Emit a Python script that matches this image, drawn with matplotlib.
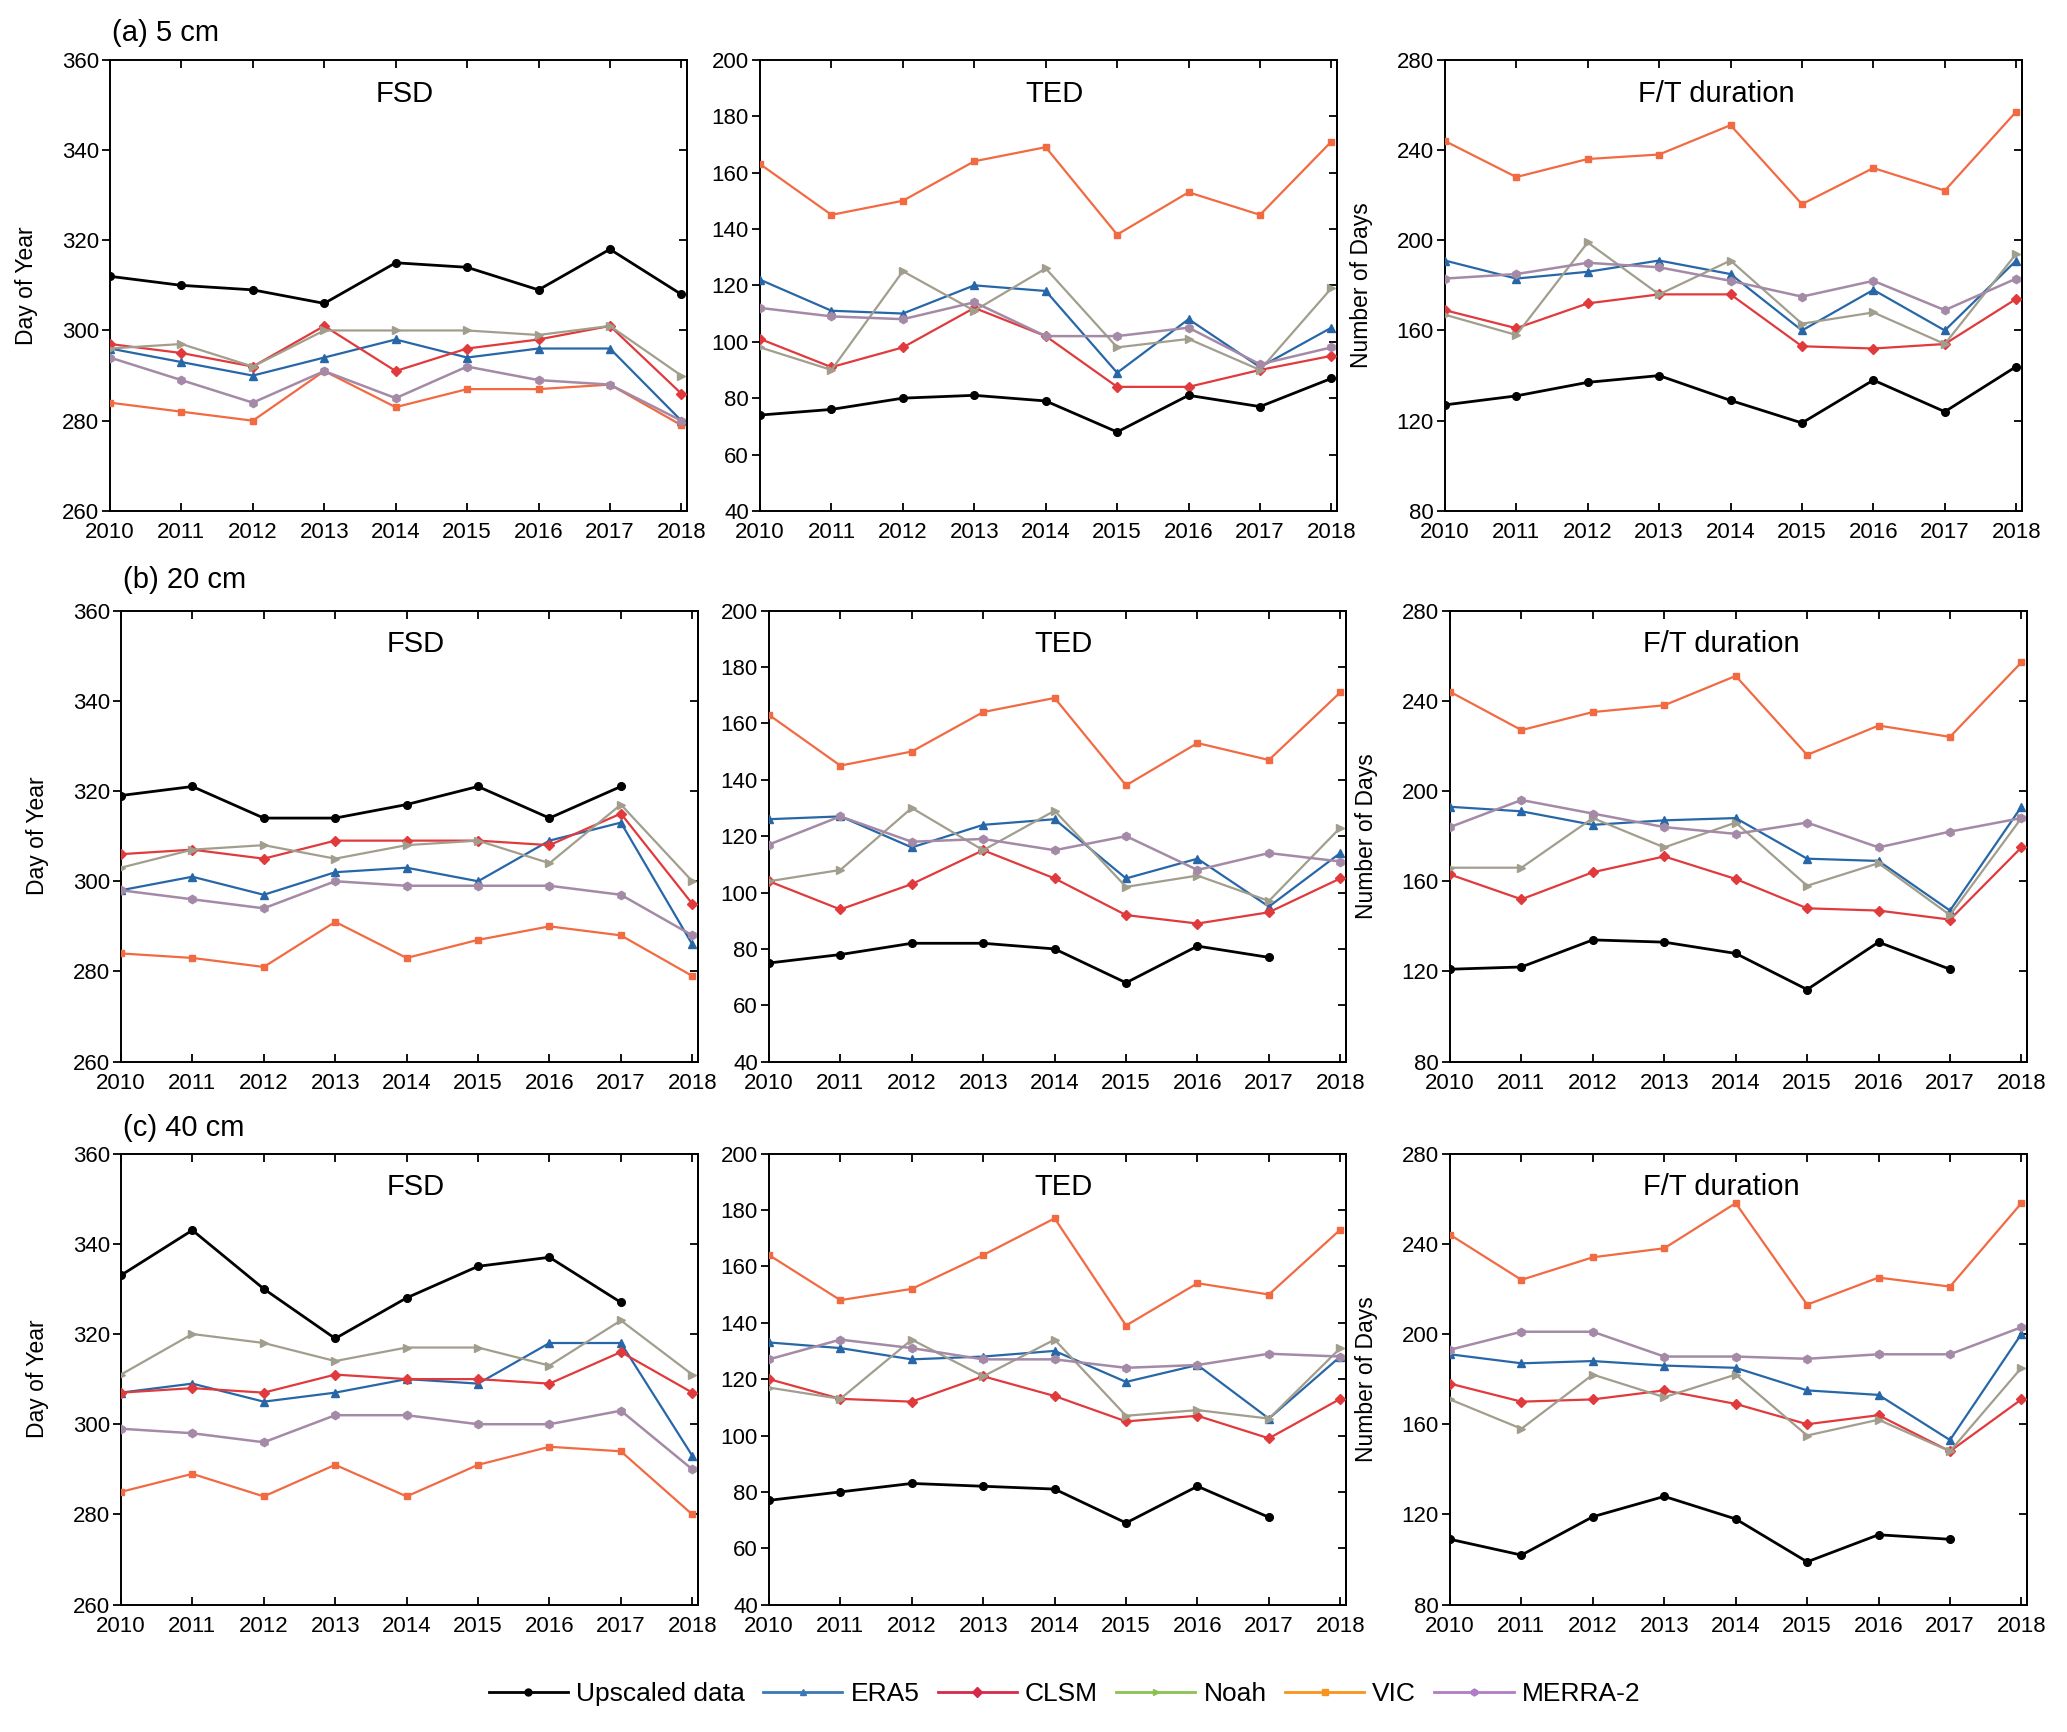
import numpy as np
import matplotlib
matplotlib.use("Agg")
import matplotlib.pyplot as plt
from matplotlib.lines import Line2D

nan = np.nan

years = [2010, 2011, 2012, 2013, 2014, 2015, 2016, 2017, 2018]
products = ["Upscaled data", "ERA5", "CLSM", "Noah", "VIC", "MERRA-2"]

# rows follow the products list
fsd_5 = [
    [312, 310, 309, 306, 315, 314, 309, 318, 308],
    [296, 293, 290, 294, 298, 294, 296, 296, 280],
    [297, 295, 292, 301, 291, 296, 298, 301, 286],
    [296, 297, 292, 300, 300, 300, 299, 301, 290],
    [284, 282, 280, 291, 283, 287, 287, 288, 279],
    [294, 289, 284, 291, 285, 292, 289, 288, 280],
]
ted_5 = [
    [74, 76, 80, 81, 79, 68, 81, 77, 87],
    [122, 111, 110, 120, 118, 89, 108, 91, 105],
    [101, 91, 98, 112, 102, 84, 84, 90, 95],
    [98, 90, 125, 111, 126, 98, 101, 90, 119],
    [163, 145, 150, 164, 169, 138, 153, 145, 171],
    [112, 109, 108, 114, 102, 102, 105, 92, 98],
]
ft_5 = [
    [127, 131, 137, 140, 129, 119, 138, 124, 144],
    [191, 183, 186, 191, 185, 160, 178, 160, 191],
    [169, 161, 172, 176, 176, 153, 152, 154, 174],
    [167, 158, 199, 176, 191, 163, 168, 154, 194],
    [244, 228, 236, 238, 251, 216, 232, 222, 257],
    [183, 185, 190, 188, 182, 175, 182, 169, 183],
]
fsd_20 = [
    [319, 321, 314, 314, 317, 321, 314, 321, nan],
    [298, 301, 297, 302, 303, 300, 309, 313, 286],
    [306, 307, 305, 309, 309, 309, 308, 315, 295],
    [303, 307, 308, 305, 308, 309, 304, 317, 300],
    [284, 283, 281, 291, 283, 287, 290, 288, 279],
    [298, 296, 294, 300, 299, 299, 299, 297, 288],
]
ted_20 = [
    [75, 78, 82, 82, 80, 68, 81, 77, nan],
    [126, 127, 116, 124, 126, 105, 112, 95, 114],
    [104, 94, 103, 115, 105, 92, 89, 93, 105],
    [104, 108, 130, 115, 129, 102, 106, 97, 123],
    [163, 145, 150, 164, 169, 138, 153, 147, 171],
    [117, 127, 118, 119, 115, 120, 108, 114, 111],
]
ft_20 = [
    [121, 122, 134, 133, 128, 112, 133, 121, nan],
    [193, 191, 185, 187, 188, 170, 169, 147, 193],
    [163, 152, 164, 171, 161, 148, 147, 143, 175],
    [166, 166, 188, 175, 186, 158, 168, 145, 188],
    [244, 227, 235, 238, 251, 216, 229, 224, 257],
    [184, 196, 190, 184, 181, 186, 175, 182, 188],
]
fsd_40 = [
    [333, 343, 330, 319, 328, 335, 337, 327, nan],
    [307, 309, 305, 307, 310, 309, 318, 318, 293],
    [307, 308, 307, 311, 310, 310, 309, 316, 307],
    [311, 320, 318, 314, 317, 317, 313, 323, 311],
    [285, 289, 284, 291, 284, 291, 295, 294, 280],
    [299, 298, 296, 302, 302, 300, 300, 303, 290],
]
ted_40 = [
    [77, 80, 83, 82, 81, 69, 82, 71, nan],
    [133, 131, 127, 128, 130, 119, 125, 106, 128],
    [120, 113, 112, 121, 114, 105, 107, 99, 113],
    [117, 113, 134, 121, 134, 107, 109, 106, 131],
    [164, 148, 152, 164, 177, 139, 154, 150, 173],
    [127, 134, 131, 127, 127, 124, 125, 129, 128],
]
ft_40 = [
    [109, 102, 119, 128, 118, 99, 111, 109, nan],
    [191, 187, 188, 186, 185, 175, 173, 153, 200],
    [178, 170, 171, 175, 169, 160, 164, 148, 171],
    [171, 158, 182, 172, 182, 155, 162, 148, 185],
    [244, 224, 234, 238, 258, 213, 225, 221, 258],
    [193, 201, 201, 190, 190, 189, 191, 191, 203],
]

row_labels = ["(a) 5 cm", "(b) 20 cm", "(c) 40 cm"]
panel_titles = ["FSD", "TED", "F/T duration"]

plt.rcParams["font.family"] = ["Liberation Sans", "DejaVu Sans"]

line_colors = ["black", "#2767a8", "#e03a3c", "#a29e8e", "#f26a42", "#a48aa6"]
legend_colors = ["black", "#3a78b5", "#d62848", "#8cc152", "#f7941d", "#b07cc6"]
markers = ["o", "^", "D", ">", "s", "h"]
msizes = [5.5, 5.5, 5, 6, 4.5, 6]
lwidths = [2.0, 1.6, 1.6, 1.6, 1.6, 1.8]

ylims = [(260, 360), (40, 200), (80, 280)]
yticks = [np.arange(260, 361, 20), np.arange(40, 201, 20), np.arange(80, 281, 40)]
ylabels = ["Day of Year", None, "Number of Days"]

data = [[fsd_5, ted_5, ft_5], [fsd_20, ted_20, ft_20], [fsd_40, ted_40, ft_40]]

fig = plt.figure(figsize=(20.67, 17.32), dpi=100)

row_bottom = [0.705, 0.387, 0.0735]
row_h = 0.2605
col_left = [[0.0532, 0.3677, 0.699], [0.0585, 0.372, 0.7015], [0.0585, 0.372, 0.7015]]
col_w = 0.2792
label_y = [0.981, 0.665, 0.349]

for r in range(3):
    for c in range(3):
        ax = fig.add_axes([col_left[r][c], row_bottom[r], col_w, row_h])
        series = data[r][c]
        for k in range(len(products)):
            ax.plot(years, series[k], color=line_colors[k], marker=markers[k],
                    markersize=msizes[k], linewidth=lwidths[k],
                    zorder=10 if k == 0 else 3)
        ax.set_xlim(2010, 2018.08)
        ax.set_ylim(*ylims[c])
        ax.set_xticks(years)
        ax.set_yticks(yticks[c])
        ax.tick_params(axis="x", direction="in", top=True, length=6, width=1.3,
                       labelsize=16, pad=8)
        ax.tick_params(axis="y", direction="out", right=False, length=6, width=1.3,
                       labelsize=16, pad=2)
        sec = ax.secondary_yaxis("right")
        sec.set_yticks(yticks[c])
        sec.tick_params(direction="in", length=6, width=1.3, labelright=False)
        sec.spines["right"].set_linewidth(1.4)
        for s in ax.spines.values():
            s.set_linewidth(1.4)
        title_x = 0.47 if c == 2 else 0.51
        ax.text(title_x, 0.925, panel_titles[c], transform=ax.transAxes,
                ha="center", va="center", fontsize=21)
        if ylabels[c]:
            ax.set_ylabel(ylabels[c], fontsize=16.5)
            ax.yaxis.set_label_coords(-0.125, 0.5)
    fig.text(col_left[r][0] + 0.001, label_y[r], row_labels[r], fontsize=21,
             ha="left", va="center")

handles = [Line2D([], [], color=legend_colors[k], marker=markers[k], markersize=5,
                  linewidth=2) for k in range(len(products))]
fig.legend(handles, products, loc="center", bbox_to_anchor=(0.515, 0.022), ncol=6,
           frameon=False, fontsize=19, handlelength=3.0, handletextpad=0.3,
           columnspacing=0.7)

fig.savefig("out.png", dpi=100)
